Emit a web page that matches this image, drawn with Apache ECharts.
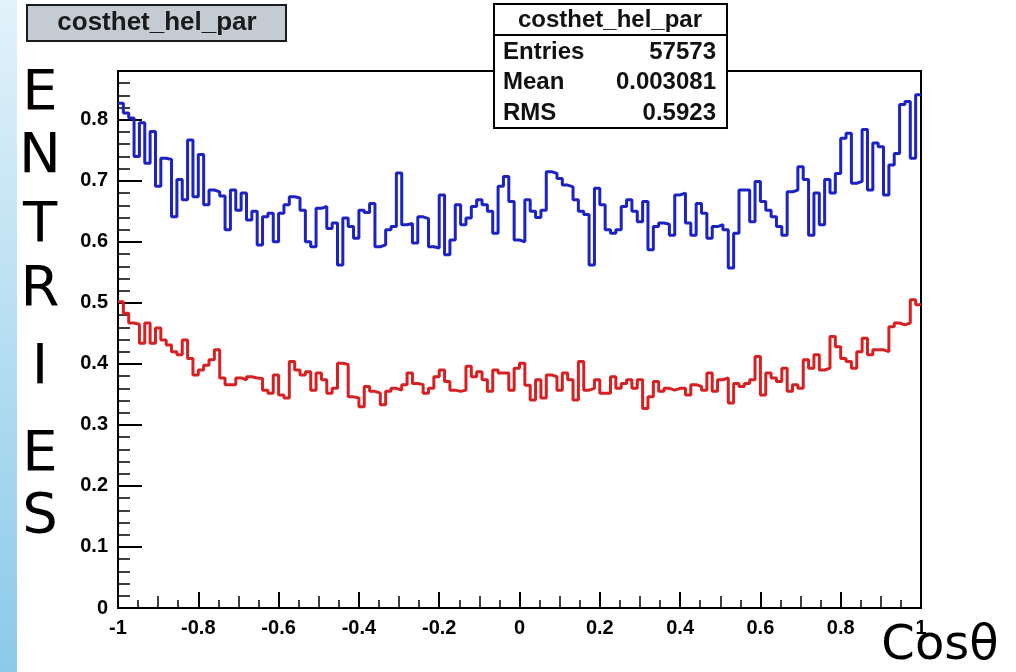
<!DOCTYPE html>
<html>
<head>
<meta charset="utf-8">
<script src="https://cdn.jsdelivr.net/npm/echarts@6/dist/echarts.min.js"></script>
<style>
  html, body { margin: 0; padding: 0; background: #fff; }
  #main { width: 1016px; height: 672px; }
</style>
</head>
<body>
<div id="main"></div>
<script>
// histogram name + stats box
const histName = 'costhet_hel_par';
const statLabels = ['Entries', 'Mean', 'RMS'];
const statValues = ['57573', '0.003081', '0.5923'];
const yTitleLetters = ['E', 'N', 'T', 'R', 'I', 'E', 'S'];
const xTitle = 'Cosθ';

// bin contents, 150 bins over [-1, 1]
const blueCounts = [
  0.827, 0.811, 0.803, 0.740, 0.795, 0.729, 0.781, 0.691, 0.737, 0.735,
  0.641, 0.702, 0.669, 0.767, 0.674, 0.743, 0.661, 0.685, 0.682, 0.675,
  0.620, 0.685, 0.652, 0.680, 0.636, 0.650, 0.595, 0.641, 0.647, 0.600,
  0.647, 0.661, 0.674, 0.672, 0.652, 0.600, 0.592, 0.655,
  0.658, 0.622, 0.631, 0.562, 0.639, 0.625, 0.606, 0.652, 0.648, 0.663,
  0.592, 0.595, 0.620, 0.625, 0.713, 0.628, 0.630, 0.598, 0.641, 0.638,
  0.592, 0.590, 0.677, 0.579, 0.603, 0.661, 0.628, 0.639, 0.658, 0.669,
  0.661, 0.650, 0.614, 0.691, 0.707, 0.666, 0.603,
  0.600, 0.669, 0.650, 0.640, 0.652, 0.715, 0.712, 0.704, 0.693, 0.690,
  0.669, 0.650, 0.645, 0.562, 0.688, 0.661, 0.620, 0.614, 0.620, 0.658,
  0.669, 0.650, 0.633, 0.666, 0.587, 0.625, 0.631, 0.629, 0.611, 0.677,
  0.680, 0.631, 0.611, 0.663, 0.647, 0.606, 0.625,
  0.628, 0.620, 0.557, 0.614, 0.685, 0.685, 0.633, 0.699, 0.666, 0.652,
  0.641, 0.625, 0.611, 0.682, 0.685, 0.723, 0.702, 0.611, 0.680, 0.628,
  0.702, 0.680, 0.712, 0.770, 0.778, 0.696, 0.699, 0.784, 0.685, 0.762,
  0.756, 0.677, 0.726, 0.745, 0.825, 0.830, 0.737, 0.841
];
const redCounts = [
  0.502, 0.483, 0.467, 0.465, 0.434, 0.467, 0.434, 0.459, 0.439, 0.431,
  0.420, 0.415, 0.439, 0.409, 0.382, 0.390, 0.398, 0.407, 0.423, 0.377,
  0.366, 0.366, 0.377, 0.374, 0.379, 0.377, 0.376, 0.357, 0.352, 0.382,
  0.349, 0.344, 0.404, 0.390, 0.382, 0.387, 0.357, 0.385,
  0.374, 0.352, 0.360, 0.401, 0.399, 0.346, 0.344, 0.330, 0.363, 0.355,
  0.352, 0.333, 0.355, 0.360, 0.357, 0.366, 0.385, 0.368, 0.366, 0.352,
  0.360, 0.379, 0.390, 0.371, 0.357, 0.355, 0.357, 0.396, 0.379, 0.387,
  0.374, 0.355, 0.390, 0.385, 0.385, 0.357, 0.393,
  0.401, 0.365, 0.341, 0.374, 0.344, 0.382, 0.379, 0.357, 0.385, 0.374,
  0.341, 0.404, 0.357, 0.360, 0.374, 0.352, 0.352, 0.379, 0.360, 0.368,
  0.374, 0.360, 0.374, 0.327, 0.346, 0.371, 0.355, 0.360, 0.357, 0.360,
  0.360, 0.349, 0.366, 0.363, 0.357, 0.385, 0.355,
  0.374, 0.377, 0.336, 0.368, 0.363, 0.368, 0.374, 0.412, 0.349, 0.385,
  0.377, 0.371, 0.393, 0.355, 0.366, 0.360, 0.407, 0.393, 0.415, 0.390,
  0.393, 0.445, 0.428, 0.409, 0.404, 0.393, 0.420, 0.442, 0.415, 0.423,
  0.423, 0.420, 0.461, 0.467, 0.464, 0.467, 0.505, 0.497
];

// left bin edges + closing point, drawn as step line
function toSteps(vals) {
  const n = vals.length;
  const pts = vals.map((v, i) => [-1 + 2 * i / n, v]);
  pts.push([1, vals[n - 1]]);
  return pts;
}

const chart = echarts.init(document.getElementById('main'));
const tickFont = { fontFamily: 'Liberation Sans', fontWeight: 'bold', fontSize: 20, color: '#000' };
const black = { color: '#000', width: 2 };

const graphics = [
  {
    type: 'rect', shape: { x: 0, y: 0, width: 17, height: 672 }, silent: true,
    style: { fill: new echarts.graphic.LinearGradient(0, 0, 0, 1, [
      { offset: 0, color: '#e2f2fa' }, { offset: 1, color: '#8ccae9' }
    ]) }
  },
  {
    type: 'rect', shape: { x: 27, y: 5, width: 259, height: 36 }, z: 10,
    style: { fill: '#c4cbd3', stroke: '#1a1a1a', lineWidth: 2 }
  },
  {
    type: 'text', x: 157, y: 23, z: 11,
    style: { text: histName, font: 'bold 26px "Liberation Sans"', align: 'center', verticalAlign: 'middle', fill: '#1a1a1a' }
  },
  {
    type: 'rect', shape: { x: 494, y: 4, width: 233, height: 124 }, z: 10,
    style: { fill: '#fff', stroke: '#000', lineWidth: 2 }
  },
  {
    type: 'line', shape: { x1: 494, y1: 35, x2: 727, y2: 35 }, z: 11,
    style: { stroke: '#000', lineWidth: 2 }
  },
  {
    type: 'text', x: 610, y: 20, z: 11,
    style: { text: histName, font: 'bold 24px "Liberation Sans"', align: 'center', verticalAlign: 'middle', fill: '#111' }
  },
  {
    type: 'text', x: 940, y: 647, z: 11,
    style: { text: xTitle, font: '48px "DejaVu Sans"', align: 'center', verticalAlign: 'middle', fill: '#000' }
  }
];

statLabels.forEach((lab, k) => {
  graphics.push({
    type: 'text', x: 503, y: 52 + 30.5 * k, z: 11,
    style: { text: lab, font: 'bold 24px "Liberation Sans"', align: 'left', verticalAlign: 'middle', fill: '#111' }
  });
  graphics.push({
    type: 'text', x: 716, y: 52 + 30.5 * k, z: 11,
    style: { text: statValues[k], font: 'bold 24px "Liberation Sans"', align: 'right', verticalAlign: 'middle', fill: '#111' }
  });
});

const letterY = [94, 157, 226, 290, 368, 455, 517];
yTitleLetters.forEach((ch, k) => {
  graphics.push({
    type: 'text', x: 40, y: letterY[k], z: 11,
    style: { text: ch, font: '56px "DejaVu Sans"', align: 'center', verticalAlign: 'middle', fill: '#000' }
  });
});

const option = {
  animation: false,
  backgroundColor: '#fff',
  grid: { left: 118, right: 95, top: 71, bottom: 64, show: true, borderColor: '#000', borderWidth: 2 },
  xAxis: [
    {
      type: 'value', min: -1, max: 1, interval: 0.2,
      axisLine: { show: true, onZero: false, lineStyle: black },
      axisTick: { inside: true, length: 16, lineStyle: black },
      minorTick: { show: true, splitNumber: 4, length: 8, lineStyle: { color: '#000', width: 1.5 } },
      splitLine: { show: false },
      axisLabel: Object.assign({ margin: 10 }, tickFont)
    },
    {
      type: 'value', min: -1, max: 1, interval: 0.1, position: 'bottom',
      axisLine: { show: false, onZero: false },
      axisTick: { inside: true, length: 12, lineStyle: { color: '#000', width: 1.5 } },
      axisLabel: { show: false },
      splitLine: { show: false }
    }
  ],
  yAxis: [
    {
      type: 'value', min: 0, max: 0.88, interval: 0.1,
      axisLine: { show: true, onZero: false, lineStyle: black },
      axisTick: { inside: true, length: 24, lineStyle: black },
      splitLine: { show: false },
      axisLabel: Object.assign({ margin: 10, showMaxLabel: false }, tickFont)
    },
    {
      type: 'value', min: 0, max: 0.88, interval: 0.02, position: 'left',
      axisLine: { show: false, onZero: false },
      axisTick: { inside: true, length: 12, lineStyle: { color: '#000', width: 1.5 } },
      axisLabel: { show: false },
      splitLine: { show: false }
    }
  ],
  series: [
    {
      name: 'blue', type: 'line', step: 'end', xAxisIndex: 0, yAxisIndex: 0,
      showSymbol: false, symbol: 'none',
      lineStyle: { color: '#1c22c4', width: 3 },
      data: toSteps(blueCounts)
    },
    {
      name: 'red', type: 'line', step: 'end', xAxisIndex: 0, yAxisIndex: 0,
      showSymbol: false, symbol: 'none',
      lineStyle: { color: '#d81f22', width: 3 },
      data: toSteps(redCounts)
    }
  ],
  graphic: graphics
};
chart.setOption(option);
</script>
</body>
</html>
